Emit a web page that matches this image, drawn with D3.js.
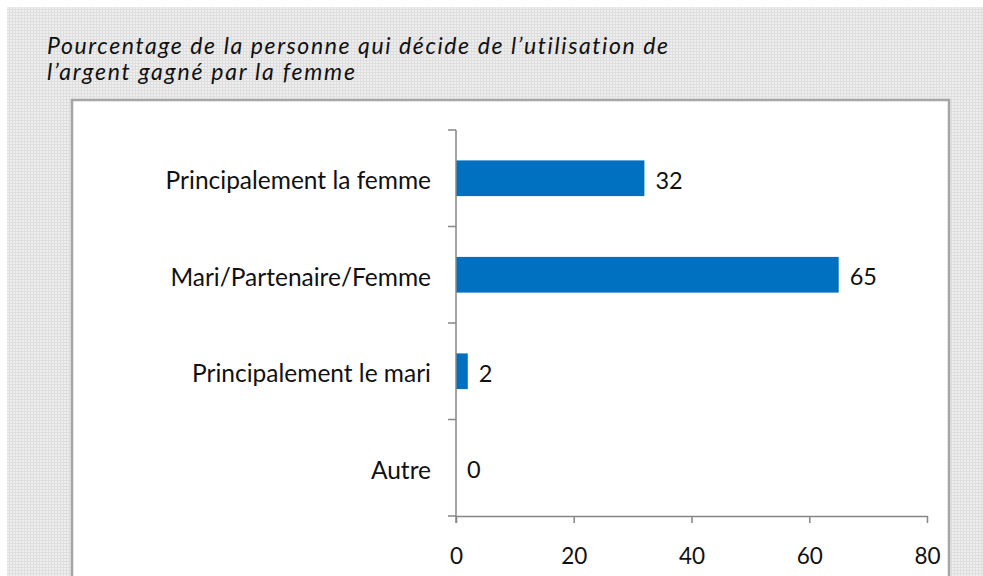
<!DOCTYPE html>
<html>
<head>
<meta charset="utf-8">
<script src="https://cdn.jsdelivr.net/npm/d3@7"></script>
<style>
  html, body { margin: 0; padding: 0; background: #ffffff; }
  svg { display: block; }
  text { font-variant-ligatures: none; font-feature-settings: "liga" 0; }
</style>
</head>
<body>
<div id="chart"></div>
<script>
// Categories (top to bottom) and their percentages
const categories = ["Principalement la femme", "Mari/Partenaire/Femme", "Principalement le mari", "Autre"];
const values = [32, 65, 2, 0];
const xTicks = [0, 20, 40, 60, 80];
const titleLines = [
  "Pourcentage de la personne qui décide de l\u2019utilisation de",
  "l\u2019argent gagné par la femme"
];

const W = 983, H = 576;
const font = "Lato, 'Open Sans', sans-serif";
const svg = d3.select("#chart").append("svg").attr("width", W).attr("height", H);

// Hatched grey backdrop
const defs = svg.append("defs");
const pat = defs.append("pattern").attr("id", "grid")
  .attr("width", 3).attr("height", 3).attr("patternUnits", "userSpaceOnUse");
pat.append("rect").attr("width", 3).attr("height", 3).attr("fill", "#eeeeee");
pat.append("rect").attr("x", 0).attr("y", 0).attr("width", 3).attr("height", 1).attr("fill", "#dedede");
pat.append("rect").attr("x", 0).attr("y", 0).attr("width", 1).attr("height", 3).attr("fill", "#dedede");

svg.append("rect").attr("x", 7).attr("y", 7).attr("width", W - 7).attr("height", H - 7)
  .attr("fill", "url(#grid)");

// White plot panel with grey frame
svg.append("rect").attr("x", 72).attr("y", 100).attr("width", 877).attr("height", H)
  .attr("fill", "#ffffff").attr("stroke", "#a6a6a6").attr("stroke-width", 2.5);

// Title
const title = svg.append("g").attr("font-family", font)
  .attr("font-style", "italic").attr("font-size", 23).attr("fill", "#111");
title.append("text").attr("x", 47).attr("y", 54).text(titleLines[0])
  .attr("textLength", 621).attr("lengthAdjust", "spacing");
title.append("text").attr("x", 47).attr("y", 80).text(titleLines[1])
  .attr("textLength", 308).attr("lengthAdjust", "spacing");

// Scales
const x = d3.scaleLinear().domain([0, 80]).range([456, 927]);
const y = d3.scaleBand().domain(categories).range([130, 516]).paddingInner(0.63).paddingOuter(0.315);
const yOuter = d3.scaleBand().domain(categories).range([130, 516]);

const axisColor = "#868686";

// Bars
svg.append("g").selectAll("rect").data(categories).join("rect")
  .attr("x", x(0))
  .attr("y", d => y(d))
  .attr("width", (d, i) => x(values[i]) - x(0))
  .attr("height", y.bandwidth())
  .attr("fill", "#0070C0");

// Value labels
svg.append("g").attr("font-family", font).attr("font-size", 23.5).attr("fill", "#111")
  .selectAll("text").data(categories).join("text")
  .attr("x", (d, i) => x(values[i]) + 11)
  .attr("y", d => y(d) + y.bandwidth() / 2 + 2)
  .attr("dy", "0.36em")
  .text((d, i) => values[i]);

// Category labels
svg.append("g").attr("font-family", font).attr("font-size", 24.5).attr("fill", "#111")
  .attr("text-anchor", "end")
  .selectAll("text").data(categories).join("text")
  .attr("x", 431)
  .attr("y", d => y(d) + y.bandwidth() / 2 + 2)
  .attr("dy", "0.36em")
  .text(d => d);

// Vertical axis with ticks between categories
const yAxisG = svg.append("g").attr("stroke", axisColor).attr("stroke-width", 1.5);
yAxisG.append("line").attr("x1", x(0)).attr("x2", x(0)).attr("y1", 130).attr("y2", 523);
const boundaries = categories.map(d => yOuter(d)).concat([516]);
yAxisG.selectAll("line.tk").data(boundaries).join("line").attr("class", "tk")
  .attr("x1", x(0) - 8).attr("x2", x(0)).attr("y1", d => d).attr("y2", d => d);

// Horizontal axis
const xAxis = d3.axisBottom(x).tickValues(xTicks).tickSize(7).tickPadding(25).tickSizeOuter(0);
const xg = svg.append("g").attr("transform", "translate(0,516)").call(xAxis);
xg.select(".domain").attr("stroke", axisColor).attr("stroke-width", 1.5);
xg.selectAll(".tick line").attr("stroke", axisColor).attr("stroke-width", 1.5);
xg.selectAll(".tick text").attr("font-family", font)
  .attr("font-size", 22.5).attr("fill", "#111");
</script>
</body>
</html>
